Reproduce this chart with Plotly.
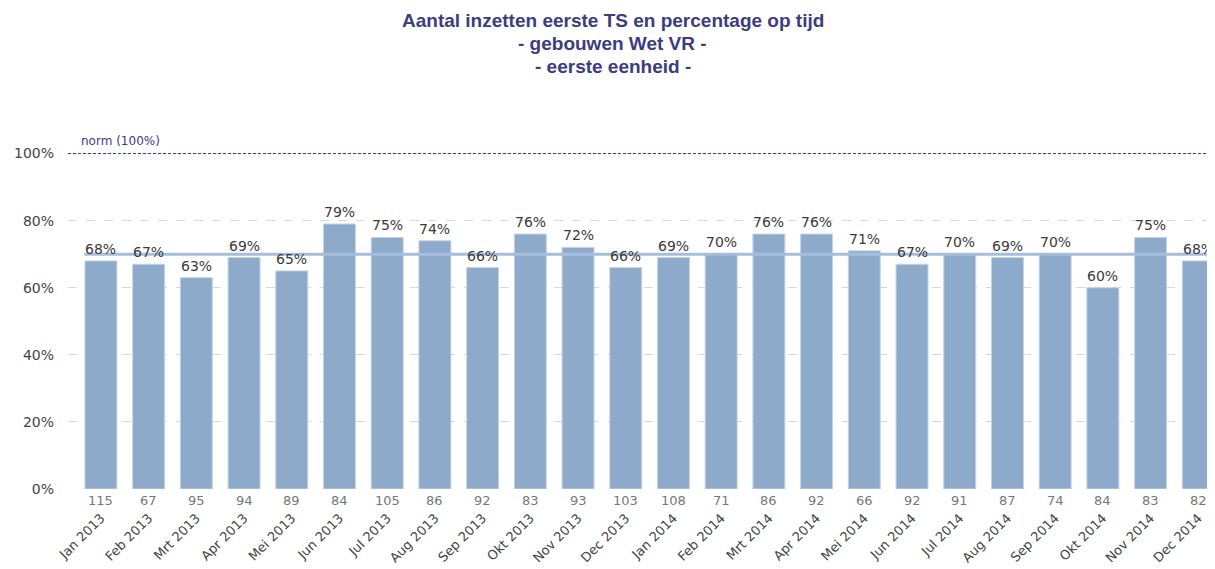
import plotly.graph_objects as go

# Maanden (x-as) en waarden
months = ['Jan 2013', 'Feb 2013', 'Mrt 2013', 'Apr 2013', 'Mei 2013', 'Jun 2013',
          'Jul 2013', 'Aug 2013', 'Sep 2013', 'Okt 2013', 'Nov 2013', 'Dec 2013',
          'Jan 2014', 'Feb 2014', 'Mrt 2014', 'Apr 2014', 'Mei 2014', 'Jun 2014',
          'Jul 2014', 'Aug 2014', 'Sep 2014', 'Okt 2014', 'Nov 2014', 'Dec 2014']
pct_on_time = [68, 67, 63, 69, 65, 79, 75, 74, 66, 76, 72, 66,
               69, 70, 76, 76, 71, 67, 70, 69, 70, 60, 75, 68]
counts = [115, 67, 95, 94, 89, 84, 105, 86, 92, 83, 93, 103,
          108, 71, 86, 92, 66, 92, 91, 87, 74, 84, 83, 82]
target = 70
norm = 100

y_ticks = [0, 20, 40, 60, 80, 100]

title_lines = ['Aantal inzetten eerste TS en percentage op tijd',
               '- gebouwen Wet VR -',
               '- eerste eenheid -']

x_pos = list(range(len(months)))
y_vals = [v / 100 for v in pct_on_time]
bar_labels = [f"{v}%" for v in pct_on_time]

title_color = '#3c3c80'
bar_color = '#8eaacb'
text_font = 'DejaVu Sans, Arial'

fig = go.Figure()

fig.add_trace(go.Bar(
    x=x_pos,
    y=y_vals,
    marker=dict(color=bar_color, line=dict(color='#c4d3e6', width=1)),
    width=0.67,
    hoverinfo='skip',
))

# Lijn op het streefniveau
fig.add_trace(go.Scatter(
    x=[-0.35, 23.5],
    y=[target / 100, target / 100],
    mode='lines',
    line=dict(color='#a6bedc', width=3),
    hoverinfo='skip',
))

# Percentages boven de staven
for xp, yv, lbl in zip(x_pos, y_vals, bar_labels):
    fig.add_annotation(
        x=xp, y=yv, xref='x', yref='y',
        text=lbl, showarrow=False,
        yanchor='bottom', yshift=2,
        font=dict(family=text_font, size=14, color='#3a3a3a'),
    )

# Aantallen onder de x-as
for xp, c in zip(x_pos, counts):
    fig.add_annotation(
        x=xp, y=0, xref='x', yref='y',
        text=str(c), showarrow=False,
        yshift=-11,
        font=dict(family=text_font, size=13, color='#777777'),
    )

# Norm-lijn (100%)
fig.add_shape(
    type='line', xref='paper', yref='y',
    x0=0, x1=1, y0=norm / 100, y1=norm / 100,
    line=dict(color='#34349a', width=1, dash='3px,2px'),
)
fig.add_annotation(
    x=-0.45, y=norm / 100, xref='x', yref='y',
    text=f'norm ({norm}%)', showarrow=False,
    xanchor='left', yanchor='bottom', yshift=4,
    font=dict(family=text_font, size=12, color='#3c3c80'),
)

# Titel (drie regels)
for i, line in enumerate(title_lines):
    fig.add_annotation(
        x=0.475, y=1.271 - i * 0.063, xref='paper', yref='paper',
        text=f'<b>{line}</b>', showarrow=False,
        xanchor='center', yanchor='middle',
        font=dict(family='Liberation Sans, Arial', size=19, color=title_color),
    )

# de pagina heeft 8px body-marge; figuur daarop afgestemd
fig.update_layout(
    width=1207,
    height=561,
    margin=dict(l=60, r=0, t=112, b=80),
    plot_bgcolor='white',
    paper_bgcolor='white',
    showlegend=False,
    xaxis=dict(
        range=[-0.69, 23.35],
        tickmode='array',
        tickvals=x_pos,
        ticktext=months,
        tickangle=-45,
        ticks='',
        showgrid=False,
        zeroline=False,
        showline=False,
        automargin=False,
        ticklabelstandoff=18,
        tickfont=dict(family=text_font, size=13, color='#444444'),
    ),
    yaxis=dict(
        range=[0, 1.1],
        tickmode='array',
        tickvals=[t / 100 for t in y_ticks],
        ticktext=[f'{t}%' for t in y_ticks],
        showgrid=True,
        gridcolor='#d8d8d8',
        griddash='dash',
        zeroline=False,
        showline=False,
        automargin=False,
        ticklabelstandoff=13,
        tickfont=dict(family=text_font, size=14, color='#444444'),
    ),
)

fig.write_html("out.html")
